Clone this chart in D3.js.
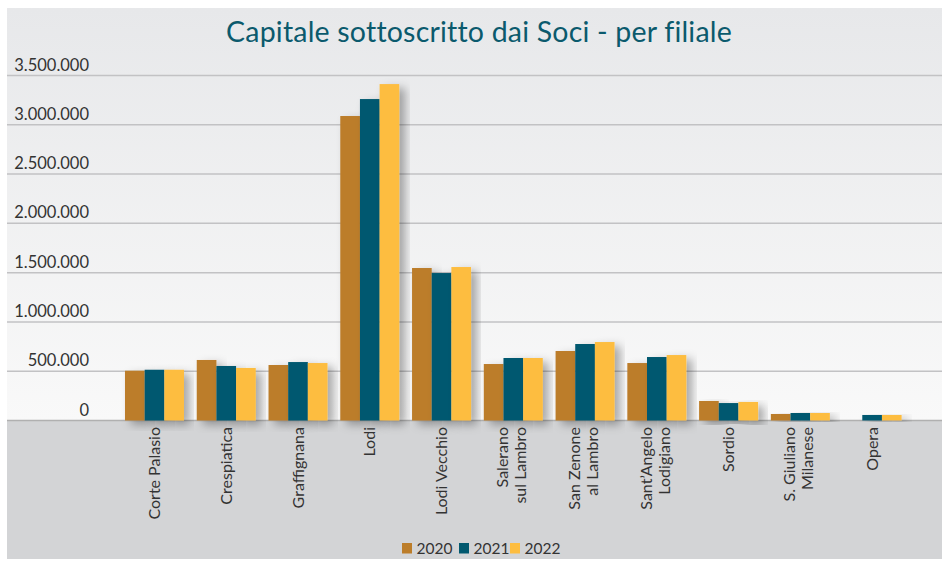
<!DOCTYPE html>
<html>
<head>
<meta charset="utf-8">
<script src="https://cdn.jsdelivr.net/npm/d3@7"></script>
<style>
  html, body { margin: 0; padding: 0; background: #ffffff; }
  svg { display: block; }
  text { font-family: Lato, "Noto Sans", sans-serif; }
</style>
</head>
<body>
<svg id="chart" width="942" height="561"></svg>
<script>
// Branches (labels may span two lines)
const categories = [
  ["Corte Palasio"],
  ["Crespiatica"],
  ["Graffignana"],
  ["Lodi"],
  ["Lodi Vecchio"],
  ["Salerano", "sul Lambro"],
  ["San Zenone", "al Lambro"],
  ["Sant’Angelo", "Lodigiano"],
  ["Sordio"],
  ["S. Giuliano", "Milanese"],
  ["Opera"]
];
const years = ["2020", "2021", "2022"];
const values2020 = [505000, 614000, 563000, 3089000, 1547000, 573000, 705000, 583000, 198000, 66000, 0];
const values2021 = [515000, 553000, 593000, 3261000, 1496000, 634000, 776000, 644000, 177000, 76000, 56000];
const values2022 = [515000, 533000, 583000, 3413000, 1557000, 634000, 796000, 664000, 188000, 76000, 56000];
const yTicks = [0, 500000, 1000000, 1500000, 2000000, 2500000, 3000000, 3500000];
const colors = ["#bc7d2a", "#02596f", "#fdbd40"];

const series = [values2020, values2021, values2022];
const svg = d3.select("#chart");
const defs = svg.append("defs");

// Panel background: light gradient above the baseline, flat grey below
const grad = defs.append("linearGradient").attr("id", "bg").attr("x1", 0).attr("y1", 0).attr("x2", 0).attr("y2", 1);
grad.append("stop").attr("offset", "0%").attr("stop-color", "#e7e8ea");
grad.append("stop").attr("offset", "100%").attr("stop-color", "#f9f9f9");

const shadow = defs.append("filter").attr("id", "shadow")
  .attr("x", "-30%").attr("y", "-10%").attr("width", "180%").attr("height", "130%");
shadow.append("feDropShadow").attr("dx", 6).attr("dy", 4).attr("stdDeviation", 5)
  .attr("flood-color", "#000").attr("flood-opacity", 0.32);

const panel = { left: 7, top: 8, right: 942, bottom: 559 };
const plotTop = 75.5, baseY = 420.5;

const x = d3.scaleBand().domain(d3.range(categories.length)).range([118.6, 908]).paddingInner(0.178).paddingOuter(0.089);
const x1 = d3.scaleBand().domain(d3.range(years.length)).range([0, x.bandwidth()]);
const y = d3.scaleLinear().domain([0, 3500000]).range([baseY, plotTop]);

svg.append("rect").attr("x", panel.left).attr("y", panel.top)
  .attr("width", panel.right - panel.left).attr("height", baseY - panel.top)
  .attr("fill", "url(#bg)");
svg.append("rect").attr("x", panel.left).attr("y", baseY)
  .attr("width", panel.right - panel.left).attr("height", panel.bottom - baseY)
  .attr("fill", "#d3d4d6");

// Title
svg.append("text").attr("x", 479).attr("y", 42).attr("text-anchor", "middle")
  .attr("font-size", 28.5).attr("fill", "#0b5a6d").attr("letter-spacing", 0.2)
  .text("Capitale sottoscritto dai Soci - per filiale");

// Gridlines and value labels
const fmt = v => d3.format(",")(v).replace(/,/g, ".");
const yAxis = svg.append("g");
yAxis.selectAll("line").data(yTicks).join("line")
  .attr("x1", panel.left).attr("x2", panel.right)
  .attr("y1", d => y(d)).attr("y2", d => y(d))
  .attr("stroke", d => d === 0 ? "#b0b0b0" : "#c2c2c4").attr("stroke-width", 1.5);
yAxis.selectAll("text").data(yTicks).join("text")
  .attr("x", 89).attr("y", d => y(d) - 5).attr("text-anchor", "end")
  .attr("font-size", 16.5).attr("fill", "#333").text(fmt);

// Bars
const groups = svg.append("g").selectAll("g").data(categories).join("g")
  .attr("transform", (d, i) => `translate(${x(i)},0)`);
groups.selectAll("rect")
  .data((d, i) => series.map((s, k) => ({ k, v: s[i] })))
  .join("rect")
  .attr("x", d => x1(d.k)).attr("width", x1.bandwidth())
  .attr("y", d => y(d.v)).attr("height", d => baseY - y(d.v))
  .attr("fill", d => colors[d.k])
  .attr("filter", d => d.v > 0 ? "url(#shadow)" : null);

// Category labels, rotated and right-aligned under the baseline
const labels = svg.append("g");
categories.forEach((lines, i) => {
  const cx = x(i) + x.bandwidth() / 2;
  const offsets = lines.length === 1 ? [5.5] : [-5, 13];
  lines.forEach((line, j) => {
    labels.append("text")
      .attr("transform", `translate(${cx + offsets[j]},427) rotate(-90)`)
      .attr("text-anchor", "end").attr("font-size", 16).attr("fill", "#333")
      .text(line);
  });
});

// Legend
const legend = svg.append("g");
const legendX = [402, 459, 510];
years.forEach((yr, k) => {
  legend.append("rect").attr("x", legendX[k]).attr("y", 543).attr("width", 10).attr("height", 10.5)
    .attr("fill", colors[k]);
  legend.append("text").attr("x", legendX[k] + 14.5).attr("y", 553.5)
    .attr("font-size", 15.5).attr("fill", "#333").text(yr);
});
</script>
</body>
</html>
